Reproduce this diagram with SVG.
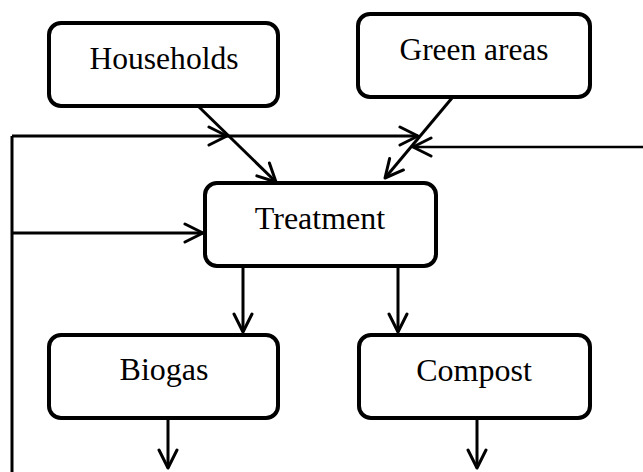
<svg xmlns="http://www.w3.org/2000/svg" width="643" height="472" viewBox="0 0 643 472">
<style>
.box{fill:#fff;stroke:#000;stroke-width:4}
.lbl{font-family:"Liberation Serif","Times New Roman",serif;font-size:32px;fill:#000;text-anchor:middle}
.ln{fill:none;stroke:#000;stroke-width:3}
.arr{marker-end:url(#ah)}
</style>
<defs>
<marker id="ah" viewBox="0 0 24 24" refX="20" refY="12" markerWidth="24" markerHeight="24" markerUnits="userSpaceOnUse" orient="auto">
<path d="M2,3 L20,12 L2,21" fill="none" stroke="#000" stroke-width="3" stroke-linecap="round" stroke-linejoin="round"/>
</marker>
</defs>
<rect width="643" height="472" fill="#fff"/>
<g id="connectors">
<path class="ln" d="M12,472 L12,136"/>
<path class="ln arr" d="M12,136 L227,136"/>
<path class="ln arr" d="M227,136 L418,136"/>
<path class="ln arr" d="M643,147 L413,147" style="stroke-width:2.5"/>
<path class="ln arr" d="M12,233 L203,233"/>
<path class="ln arr" d="M198,106 L276,182"/>
<path class="ln arr" d="M452,98 L385,178"/>
<path class="ln arr" d="M243,266 L243,332"/>
<path class="ln arr" d="M398,266 L398,332"/>
<path class="ln arr" d="M168,418 L168,468"/>
<path class="ln arr" d="M477,418 L477,468"/>
</g>
<g id="households">
<rect class="box" x="49" y="23" width="229" height="83" rx="12"/>
<text class="lbl" x="164" y="69" textLength="149" lengthAdjust="spacingAndGlyphs">Households</text>
</g>
<g id="green-areas">
<rect class="box" x="358" y="14" width="232" height="83" rx="12"/>
<text class="lbl" x="474" y="60" textLength="149" lengthAdjust="spacingAndGlyphs">Green areas</text>
</g>
<g id="treatment">
<rect class="box" x="205" y="183" width="231" height="83" rx="12"/>
<text class="lbl" x="320" y="229">Treatment</text>
</g>
<g id="biogas">
<rect class="box" x="49" y="335" width="229" height="83" rx="12"/>
<text class="lbl" x="164" y="380">Biogas</text>
</g>
<g id="compost">
<rect class="box" x="359" y="335" width="231" height="83" rx="12"/>
<text class="lbl" x="474" y="381">Compost</text>
</g>
</svg>
